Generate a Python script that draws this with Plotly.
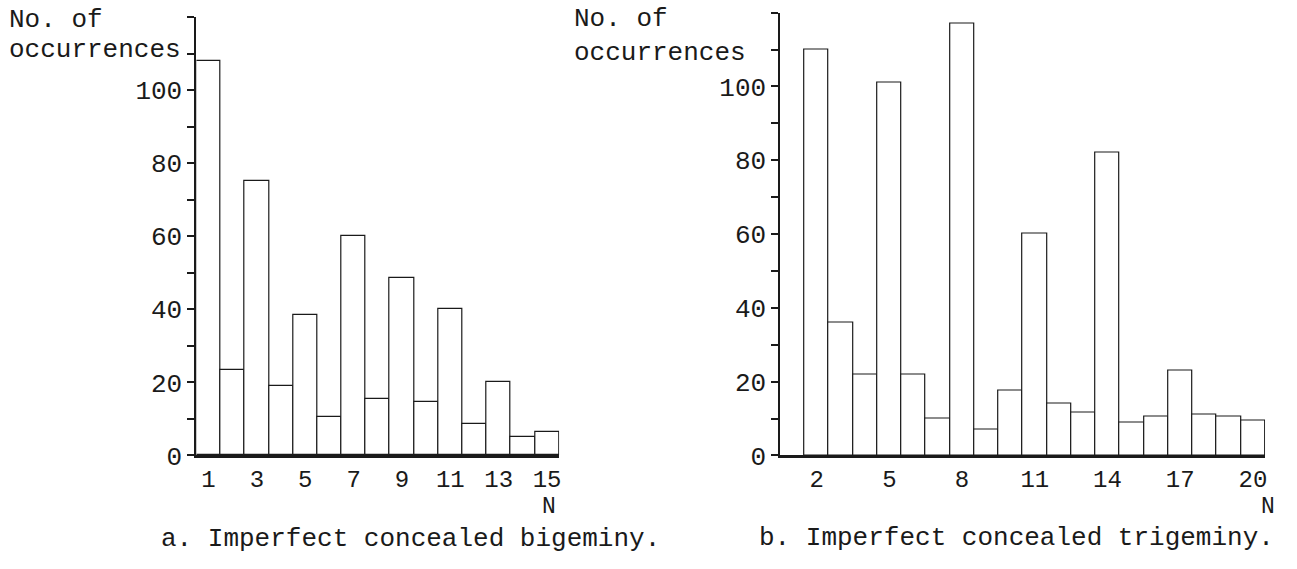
import plotly.graph_objects as go

W, H = 1297, 569

# ---- data ----
n_bigeminy = list(range(1, 16))
occ_bigeminy = [108, 23.5, 75, 19, 38.5, 10.5, 60, 15.5, 48.5, 14.5, 40, 8.5, 20, 5, 6.5]

n_trigeminy = list(range(2, 21))
occ_trigeminy = [110, 36, 22, 101, 22, 10, 117, 7, 17.5, 60, 14, 11.5, 82, 9, 10.5, 23, 11, 10.5, 9.5]

x_ticks_a = [1, 3, 5, 7, 9, 11, 13, 15]
x_ticks_b = [2, 5, 8, 11, 14, 17, 20]
y_tickvals = [0, 10, 20, 30, 40, 50, 60, 70, 80, 90, 100, 110, 120]
y_ticktext = ["0", "", "20", "", "40", "", "60", "", "80", "", "100", "", ""]

y_title_lines = ["No. of", "occurrences"]
x_title = "N"
caption_a = "a. Imperfect concealed bigeminy."
caption_b = "b. Imperfect concealed trigeminy."

FONT = "Liberation Mono"
INK = "#1a1a1a"


def px(x):
    return x / W


def py(y):
    return 1 - y / H


fig = go.Figure()
fig.add_trace(go.Bar(x=n_bigeminy, y=occ_bigeminy, width=1,
                     marker=dict(color="white", line=dict(color=INK, width=1.2)),
                     xaxis="x", yaxis="y", showlegend=False))
fig.add_trace(go.Bar(x=n_trigeminy, y=occ_trigeminy, width=1,
                     marker=dict(color="white", line=dict(color=INK, width=1.2)),
                     xaxis="x2", yaxis="y2", showlegend=False))

xcommon = dict(showgrid=False, zeroline=False, showline=True, linecolor=INK, linewidth=3,
               layer="above traces",
               ticks="", tickfont=dict(family=FONT, size=24, color=INK), ticklabelstandoff=0,
               fixedrange=True)
ycommon = dict(showgrid=False, zeroline=False, showline=True, linecolor=INK, linewidth=2,
               layer="above traces",
               range=[0, 120], tickmode="array", tickvals=y_tickvals, ticktext=y_ticktext,
               ticks="outside", ticklen=7, tickwidth=1.5, tickcolor=INK,
               tickfont=dict(family=FONT, size=26, color=INK), ticklabelstandoff=0,
               fixedrange=True)

fig.update_layout(
    width=W, height=H,
    margin=dict(l=0, r=0, t=0, b=0),
    paper_bgcolor="white", plot_bgcolor="white",
    bargap=0,
    xaxis=dict(domain=[px(196.7), px(560)], range=[0.5, 15.5], anchor="y",
               tickmode="array", tickvals=x_ticks_a, **xcommon),
    yaxis=dict(domain=[py(469.5), py(17.6)], anchor="x", **ycommon),
    xaxis2=dict(domain=[px(781.5), px(1267)], range=[0.5, 20.5], anchor="y2",
                tickmode="array", tickvals=x_ticks_b, **xcommon),
    yaxis2=dict(domain=[py(469.5), py(13)], anchor="x2", **ycommon),
)

tf = dict(family=FONT, size=26, color=INK)
nf = dict(family=FONT, size=23, color=INK)
ann = []
for x0, ys in [(7, (21, 52)), (573, (20, 55))]:
    for line, yy in zip(y_title_lines, ys):
        ann.append(dict(text=line, x=px(x0), y=py(yy), xref="paper", yref="paper",
                        xanchor="left", yanchor="middle", showarrow=False, font=tf))
ann.append(dict(text=x_title, x=px(550), y=py(523), xref="paper", yref="paper",
                xanchor="center", yanchor="middle", showarrow=False, font=nf, borderpad=0))
ann.append(dict(text=x_title, x=px(1270), y=py(523), xref="paper", yref="paper",
                xanchor="center", yanchor="middle", showarrow=False, font=nf, borderpad=0))
ann.append(dict(text=caption_a, x=px(160), y=py(556), xref="paper", yref="paper",
                xanchor="left", yanchor="middle", showarrow=False, font=tf, borderpad=0))
ann.append(dict(text=caption_b, x=px(759), y=py(555), xref="paper", yref="paper",
                xanchor="left", yanchor="middle", showarrow=False, font=tf, borderpad=0))
fig.update_layout(annotations=ann)

fig.write_html("out.html")
